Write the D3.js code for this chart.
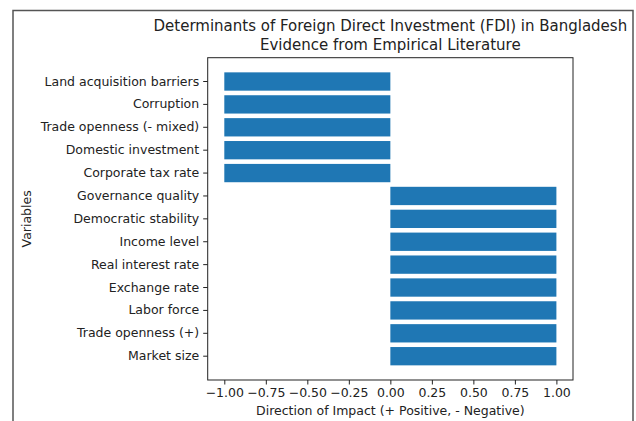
<!DOCTYPE html>
<html>
<head>
<meta charset="utf-8">
<script src="https://cdn.jsdelivr.net/npm/d3@7"></script>
<style>
  body { margin: 0; background: #fff; }
  text { font-family: "DejaVu Sans", sans-serif; fill: #222; }
</style>
</head>
<body>
<svg id="chart"></svg>
<script>
// Determinants of FDI in Bangladesh - direction of impact per variable

// Variables, bottom to top as in the chart
const variables = [
  "Market size", "Trade openness (+)", "Labor force", "Exchange rate",
  "Real interest rate", "Income level", "Democratic stability", "Governance quality",
  "Corporate tax rate", "Domestic investment", "Trade openness (- mixed)",
  "Corruption", "Land acquisition barriers"
];
// +1 positive, -1 negative
const impact = [1, 1, 1, 1, 1, 1, 1, 1, -1, -1, -1, -1, -1];
const xTicks = [-1, -0.75, -0.5, -0.25, 0, 0.25, 0.5, 0.75, 1];

const W = 636, H = 421;
const margin = { top: 57.7, right: 63, bottom: 41, left: 207.7 };
const width = W - margin.left - margin.right,
      height = H - margin.top - margin.bottom;

const svg = d3.select("#chart").attr("width", W).attr("height", H);

// outer frame of the screenshot
svg.append("path")
  .attr("d", `M13,${H} V10.5 H633 V${H}`)
  .attr("fill", "none")
  .attr("stroke", "#555")
  .attr("stroke-width", 1.5);

const g = svg.append("g").attr("transform", `translate(${margin.left},${margin.top})`);

const x = d3.scaleLinear().domain([-1.1, 1.1]).range([0, width]);
const y = d3.scaleBand()
  .domain(variables.slice().reverse())
  .range([0, height])
  .paddingInner(0.2)
  .paddingOuter(0.64);

const data = variables.map((v, i) => ({ name: v, value: impact[i] }));

// bars
g.selectAll(".bar")
  .data(data)
  .enter().append("rect")
  .attr("class", "bar")
  .attr("x", d => x(Math.min(0, d.value)))
  .attr("y", d => y(d.name))
  .attr("width", d => Math.abs(x(d.value) - x(0)))
  .attr("height", y.bandwidth())
  .attr("fill", "#1f77b4");

// axes
const xAxis = g.append("g")
  .attr("transform", `translate(0,${height})`)
  .call(d3.axisBottom(x).tickValues(xTicks).tickFormat(d3.format(".2f")).tickSize(4.5).tickPadding(4));
const yAxis = g.append("g")
  .call(d3.axisLeft(y).tickSize(4.5).tickPadding(4));

[xAxis, yAxis].forEach(a => {
  a.select(".domain").remove();
  a.selectAll("line").attr("stroke", "#222").attr("stroke-width", 1);
  a.selectAll("text").attr("font-size", 12.5).attr("font-family", "DejaVu Sans").attr("fill", "#222");
});

// frame
g.append("rect")
  .attr("width", width).attr("height", height)
  .attr("fill", "none").attr("stroke", "#222").attr("stroke-width", 1);

// labels
svg.append("text")
  .attr("x", margin.left + width / 2).attr("y", 415)
  .attr("text-anchor", "middle").attr("font-size", 12.5)
  .text("Direction of Impact (+ Positive, - Negative)");

svg.append("text")
  .attr("transform", `translate(31,${margin.top + height / 2}) rotate(-90)`)
  .attr("text-anchor", "middle").attr("font-size", 12.5)
  .text("Variables");

const title = svg.append("text")
  .attr("text-anchor", "middle").attr("font-size", 15);
title.append("tspan").attr("x", margin.left + width / 2).attr("y", 31)
  .text("Determinants of Foreign Direct Investment (FDI) in Bangladesh");
title.append("tspan").attr("x", margin.left + width / 2).attr("y", 50)
  .text("Evidence from Empirical Literature");
</script>
</body>
</html>
